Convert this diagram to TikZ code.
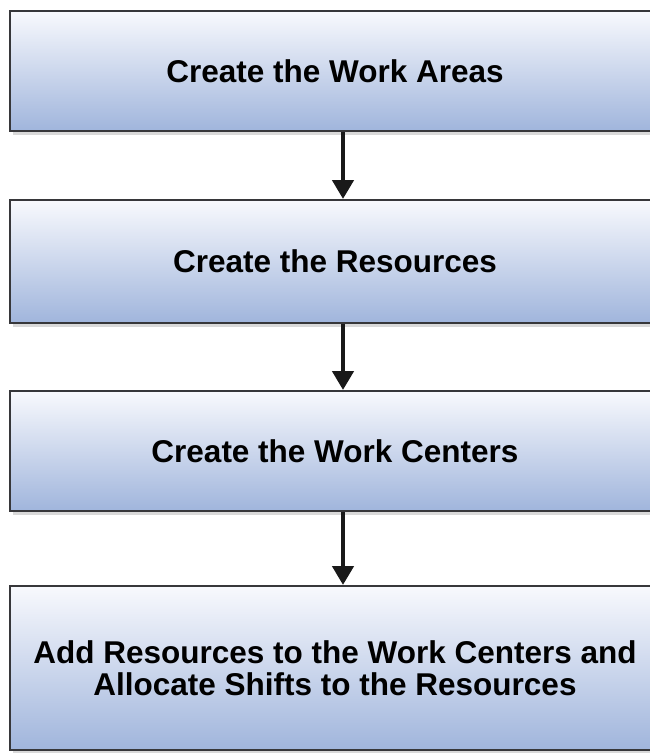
\documentclass[tikz,border=0pt]{standalone}
\usepackage{fontspec}
\setmainfont{Liberation Sans}
\usetikzlibrary{arrows.meta, positioning, shadows}

\definecolor{boxtop}{RGB}{248,249,253}
\definecolor{boxbot}{RGB}{160,181,220}
\definecolor{boxline}{RGB}{55,55,58}

\begin{document}
\begin{tikzpicture}[
    x=1pt, y=-1pt,
    stepbox/.style={draw=boxline, line width=2pt, minimum width=650pt,
                    top color=boxtop, bottom color=boxbot, align=center,
                    font=\fontsize{31.5}{32.5}\selectfont\bfseries,
                    drop shadow={shadow xshift=3pt, shadow yshift=-4pt,
                                 opacity=0.25, fill=black!60}},
    flow/.style={-{Triangle[length=19pt, width=21pt]}, line width=4.5pt,
                 black!90},
  ]
  \useasboundingbox (0,0) rectangle (650,753);

  % the four steps, top to bottom
  \foreach \n/\y/\h/\t in {1/71/120/{Create the Work Areas},
                            2/261.5/123/{Create the Resources},
                            3/451/120/{Create the Work Centers},
                            4/668/164/{Add Resources to the Work Centers and\\Allocate Shifts to the Resources}} {
    \node[stepbox, minimum height=\h pt] (s\n) at (335, \y) {\t};
  }

  \draw[flow] ([xshift=8pt]s1.south) -- ([xshift=8pt]s2.north);
  \draw[flow] ([xshift=8pt]s2.south) -- ([xshift=8pt]s3.north);
  \draw[flow] ([xshift=8pt]s3.south) -- ([xshift=8pt]s4.north);
\end{tikzpicture}
\end{document}
